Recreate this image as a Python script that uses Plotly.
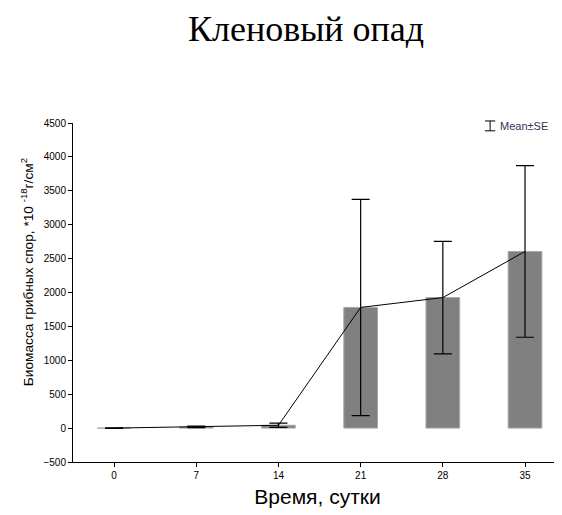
import plotly.graph_objects as go

days = ["0", "7", "14", "21", "28", "35"]
biomass = [0, 18, 42, 1780, 1925, 2605]
se = [5, 10, 30, 1595, 830, 1265]
y_ticks = [-500, 0, 500, 1000, 1500, 2000, 2500, 3000, 3500, 4000, 4500]

fig = go.Figure()
fig.add_trace(go.Bar(
    x=days, y=biomass, width=0.41,
    marker=dict(color="#808080", line=dict(color="#a8a8a8", width=1)),
    showlegend=False, hoverinfo="skip"))
fig.add_trace(go.Scatter(
    x=days, y=biomass, mode="lines",
    line=dict(color="black", width=1),
    error_y=dict(type="data", array=se, visible=True, color="black",
                 thickness=1.2, width=9),
    showlegend=False, cliponaxis=False))

# legend marker (I-beam) and text
lx, ytop, ybot, cap = 0.853, 1.006, 0.977, 0.0105
line_style = dict(color="black", width=1)
fig.add_shape(type="line", xref="paper", yref="paper", x0=lx, x1=lx, y0=ybot, y1=ytop, line=line_style)
fig.add_shape(type="line", xref="paper", yref="paper", x0=lx - cap, x1=lx + cap, y0=ytop, y1=ytop, line=line_style)
fig.add_shape(type="line", xref="paper", yref="paper", x0=lx - cap, x1=lx + cap, y0=ybot, y1=ybot, line=line_style)
fig.add_annotation(text="Mean±SE", xref="paper", yref="paper", x=0.869, y=0.992,
                   xanchor="left", yanchor="middle", showarrow=False,
                   font=dict(family="Liberation Sans, Arial", size=11, color="#333355"))

# y-axis title (as annotation to match its off-centre placement)
fig.add_annotation(text="Биомасса грибных спор, *10 <sup>-18</sup>г/см<sup>2</sup>",
                   xref="paper", yref="paper", x=-0.094, y=0.56, textangle=-90,
                   xanchor="center", yanchor="middle", showarrow=False,
                   font=dict(family="Liberation Sans, Arial", size=13.7, color="black"))

fig.update_layout(
    width=554, height=507,
    margin=dict(l=65, r=0, t=115, b=53),
    plot_bgcolor="white", paper_bgcolor="white",
    title=dict(text="Кленовый опад", x=0.538, xanchor="center", y=0.985, yanchor="top",
               font=dict(family="Liberation Serif, Times New Roman", size=36, color="black")),
    font=dict(family="Liberation Sans, Arial", color="black"),
)
fig.update_xaxes(
    type="category", range=[-0.5, 5.45],
    showline=True, linecolor="black", linewidth=1,
    ticks="outside", ticklen=4, tickcolor="black",
    showgrid=False, zeroline=False,
    tickfont=dict(size=10),
    title=dict(text="Время, сутки", font=dict(size=21), standoff=9),
)
fig.update_yaxes(
    range=[-500, 4500], tickvals=y_ticks,
    showline=True, linecolor="black", linewidth=1,
    ticks="outside", ticklen=4, tickcolor="black",
    showgrid=False, zeroline=False,
    tickfont=dict(size=10),
)

fig.write_html("out.html")
